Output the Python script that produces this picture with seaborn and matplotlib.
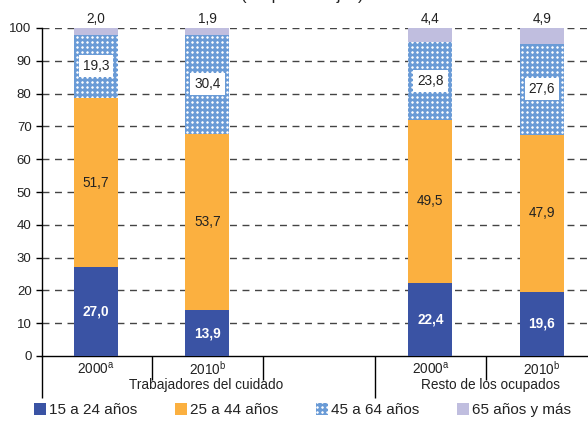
import matplotlib
matplotlib.use("Agg")
import matplotlib.pyplot as plt
import matplotlib.transforms as mtransforms
import matplotlib.hatch as mhatch
from matplotlib.patches import Patch
import seaborn as sns
import pandas as pd
import numpy as np

# ---- data ----
bar_labels = ["2000$^{\\mathrm{a}}$", "2010$^{\\mathrm{b}}$", "2000$^{\\mathrm{a}}$", "2010$^{\\mathrm{b}}$"]
group_labels = ["Trabajadores del cuidado", "Resto de los ocupados"]
age_groups = ["15 a 24 años", "25 a 44 años", "45 a 64 años", "65 años y más"]
v15_24 = [27.0, 13.9, 22.4, 19.6]
v25_44 = [51.7, 53.7, 49.5, 47.9]
v45_64 = [19.3, 30.4, 23.8, 27.6]
v65 = [2.0, 1.9, 4.4, 4.9]

positions = [0, 1, 3, 4]
colors = ["#3A53A4", "#FBB040", "#6A9BD6", "#C0BEDF"]


# square grid of white dots for the '.' hatch (reference uses a regular dot grid)
class GridDots(mhatch.Circles):
    size = 0.17
    filled = True

    def __init__(self, hatch, density):
        self.num_rows = 20 if hatch.count('.') > 0 else 0
        super().__init__(hatch, density)
        if self.num_rows:
            self.num_shapes = self.num_rows ** 2
            self.num_vertices = self.num_shapes * len(self.shape_vertices)

    def set_vertices_and_codes(self, vertices, codes):
        offset = 1.0 / self.num_rows
        sv = self.shape_vertices * offset * self.size
        pv, pc = [], []
        for r in range(self.num_rows):
            for c in range(self.num_rows):
                pv.append(sv + [(c + 0.5) * offset, (r + 0.5) * offset])
                pc.append(self.shape_codes)
        np.concatenate(pv, out=vertices)
        np.concatenate(pc, out=codes)


try:
    idx = mhatch._hatch_types.index(mhatch.SmallFilledCircles)
    mhatch._hatch_types[idx] = GridDots
except Exception:
    pass

sns.set_style("white")
plt.rcParams["font.family"] = ["Liberation Sans", "DejaVu Sans"]
plt.rcParams["mathtext.fontset"] = "custom"
plt.rcParams["mathtext.rm"] = "Liberation Sans"
plt.rcParams["hatch.linewidth"] = 0.5

W, H = 588, 422
fig = plt.figure(figsize=(W / 100, H / 100), dpi=100)
left_px, right_px, bottom_px, top_px = 42, 588, 356, 28
ax = fig.add_axes([left_px / W, 1 - bottom_px / H, (right_px - left_px) / W, (bottom_px - top_px) / H])

series = [v15_24, v25_44, v45_64, v65]
cums = np.cumsum(np.array(series), axis=0)
bw = 0.395
# draw cumulative totals from the top segment down, so lower segments cover upper ones
for i in range(3, -1, -1):
    df = pd.DataFrame({"x": positions, "y": cums[i]})
    sns.barplot(data=df, x="x", y="y", native_scale=True, width=bw, color=colors[i],
                saturation=1, errorbar=None, ax=ax, zorder=3, linewidth=0)
    if i == 2:
        for patch in ax.patches[-4:]:
            patch.set_hatch("...")
            patch.set_edgecolor("white")
            patch.set_linewidth(0)

ax.set_xlim(-0.484, 4.413)
ax.set_ylim(0, 100)
ax.set_xlabel("")
ax.set_ylabel("")

# grid
for yv in range(10, 101, 10):
    ax.axhline(yv, color="#444444", linewidth=1.0, linestyle=(0, (5, 4)), zorder=1)

# spines
for s in ["top", "right"]:
    ax.spines[s].set_visible(False)
ax.spines["left"].set_color("black")
ax.spines["bottom"].set_color("black")
ax.spines["left"].set_linewidth(1.0)
ax.spines["bottom"].set_linewidth(1.0)

ax.set_yticks(range(0, 101, 10))
ax.set_yticklabels([str(v) for v in range(0, 101, 10)], fontsize=9.5, color="#222222")
ax.tick_params(axis="y", left=True, length=4.5, width=1, pad=3, color="black")

# x ticks: short separators and long group separators
ax.set_xticks([0.5, 1.5, 3.5])
ax.set_xticklabels([])
ax.set_xticks([-0.484, 2.5], minor=True)
ax.tick_params(axis="x", which="major", bottom=True, length=17.3, width=1, color="black")
ax.tick_params(axis="x", which="minor", bottom=True, length=30.2, width=1, color="black")

trans = mtransforms.blended_transform_factory(ax.transData, fig.transFigure)
for p, lab in zip(positions, bar_labels):
    ax.text(p, 1 - 369 / H, lab, transform=trans, ha="center", va="center", fontsize=9.8, color="#222222")
ax.text(0.99, 1 - 385 / H, group_labels[0], transform=trans, ha="center", va="center", fontsize=9.8, color="#222222")
ax.text(3.54, 1 - 385 / H, group_labels[1], transform=trans, ha="center", va="center", fontsize=9.8, color="#222222")

# value labels
for j, p in enumerate(positions):
    b0 = v15_24[j]
    ax.text(p, b0 / 2, f"{v15_24[j]:.1f}".replace(".", ","), ha="center", va="center",
            fontsize=9.8, color="white", fontweight="bold", zorder=5)
    b1 = b0 + v25_44[j]
    ax.text(p, b0 + v25_44[j] / 2, f"{v25_44[j]:.1f}".replace(".", ","), ha="center", va="center",
            fontsize=9.8, color="#222222", zorder=5)
    ax.text(p, b1 + v45_64[j] / 2, f"{v45_64[j]:.1f}".replace(".", ","), ha="center", va="center",
            fontsize=9.8, color="#222222", zorder=5,
            bbox=dict(facecolor="white", edgecolor="none", boxstyle="square,pad=0.3"))
    ax.text(p, 100 + 2.7, f"{v65[j]:.1f}".replace(".", ","), ha="center", va="center",
            fontsize=9.8, color="#222222", zorder=5, clip_on=False)

# partially visible title (cut by the top edge, as in the reference)
fig.text(302 / W, 1 - 0.3 / H, "(En porcentajes)", ha="center", va="baseline", fontsize=12, color="#222222")

# legend
handles = []
for i, g in enumerate(age_groups):
    if i == 2:
        handles.append(Patch(facecolor=colors[i], edgecolor="white", hatch="...", linewidth=0, label=g))
    else:
        handles.append(Patch(facecolor=colors[i], edgecolor="none", label=g))
fig.legend(handles=handles, loc="center", bbox_to_anchor=(0.514, 1 - 410 / H), ncol=4, frameon=False,
           fontsize=11, handlelength=0.8, handleheight=0.8, handletextpad=0.2, columnspacing=2.45,
           borderpad=0, labelcolor="#222222")

fig.savefig("out.png", dpi=100)
